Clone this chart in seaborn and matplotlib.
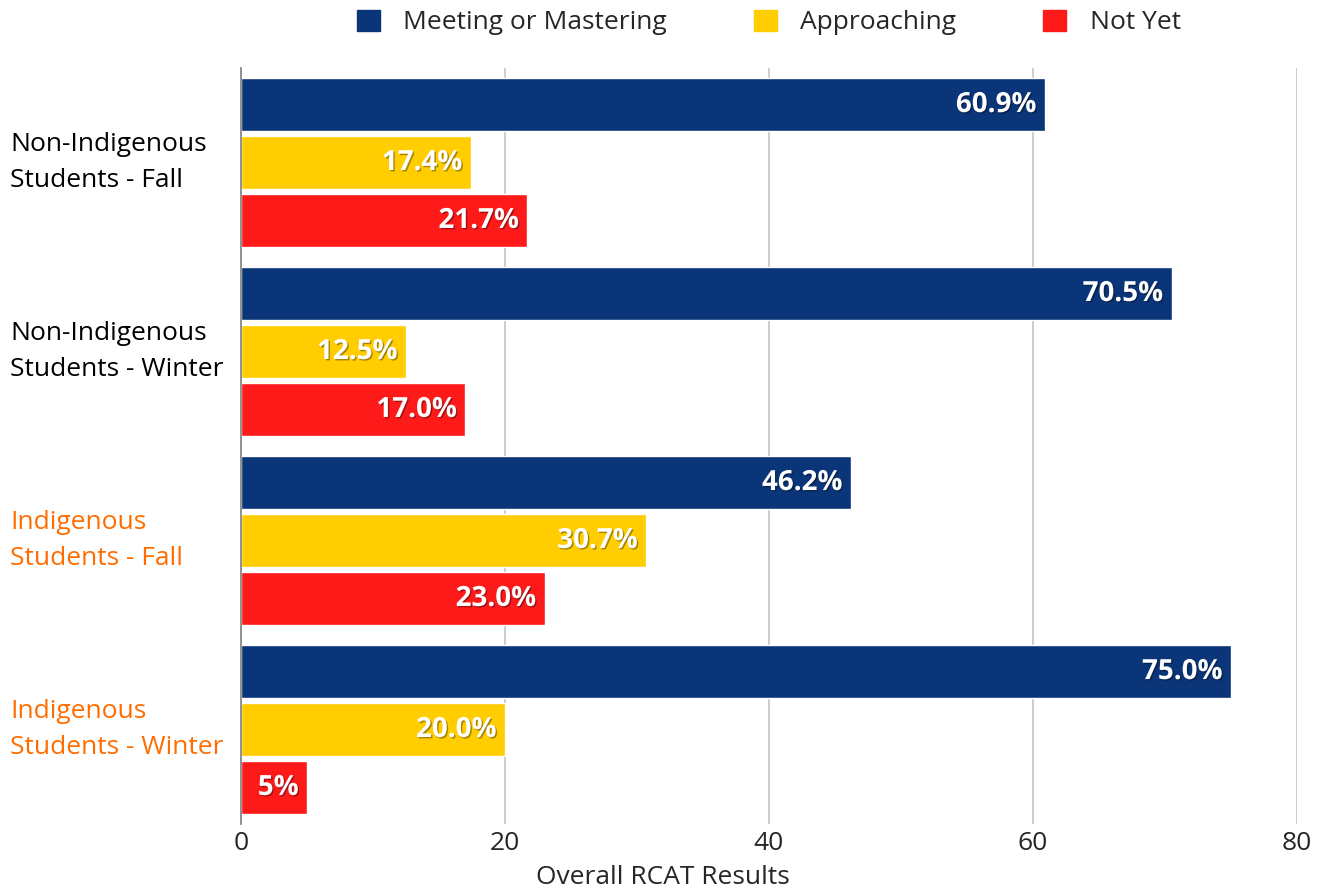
import matplotlib
matplotlib.use("Agg")
import matplotlib.pyplot as plt
import matplotlib.patheffects as pe
from matplotlib.patches import Patch
import seaborn as sns
import pandas as pd

categories = ["Non-Indigenous\nStudents - Fall", "Non-Indigenous\nStudents - Winter",
              "Indigenous\nStudents - Fall", "Indigenous\nStudents - Winter"]
category_colors = ["#000000", "#000000", "#FF6D01", "#FF6D01"]
series = ["Meeting or Mastering", "Approaching", "Not Yet"]
meeting = [60.9, 70.5, 46.2, 75.0]
approaching = [17.4, 12.5, 30.7, 20.0]
not_yet = [21.7, 17.0, 23.0, 5.0]
meeting_labels = ["60.9%", "70.5%", "46.2%", "75.0%"]
approaching_labels = ["17.4%", "12.5%", "30.7%", "20.0%"]
not_yet_labels = ["21.7%", "17.0%", "23.0%", "5%"]
colors = ["#0B3579", "#FFCD00", "#FF1A1A"]
x_ticks = [0, 20, 40, 60, 80]
x_label = "Overall RCAT Results"

rows = []
for s, vals in zip(series, [meeting, approaching, not_yet]):
    for c, v in zip(categories, vals):
        rows.append({"Group": c, "Series": s, "Value": v})
df = pd.DataFrame(rows)

sns.set_theme(style="white")
plt.rcParams["font.family"] = ["Open Sans", "DejaVu Sans"]

fig = plt.figure(figsize=(13.25, 8.9), dpi=100)
ax = fig.add_axes([241 / 1325, 1 - 824 / 890, (1297 - 241) / 1325, (824 - 68) / 890])

sns.barplot(data=df, y="Group", x="Value", hue="Series", orient="h",
            hue_order=series, order=categories, palette=colors,
            width=0.92, gap=0.07, saturation=1, legend=False, ax=ax)

ax.set_xlim(0, 80)
ax.set_ylim(3.5, -0.5)
ax.set_xticks(x_ticks)
ax.set_xticklabels([str(t) for t in x_ticks], fontsize=19)
ax.set_xlabel(x_label, fontsize=19)
ax.xaxis.set_label_coords((662.5 - 241) / 1056, -0.054)
ax.set_ylabel("")
ax.xaxis.grid(True, color="#C8C8C8", linewidth=1.3)
ax.set_axisbelow(True)
for sp in ["top", "right", "bottom"]:
    ax.spines[sp].set_visible(False)
ax.spines["left"].set_color("#888888")
ax.spines["left"].set_linewidth(1.3)
ax.tick_params(axis="both", length=0)
ax.tick_params(axis="x", pad=5)
ax.tick_params(axis="y", pad=(241 - 10) * 72 / 100)
for lbl, col in zip(ax.get_yticklabels(), category_colors):
    lbl.set_color(col)
    lbl.set_fontsize(19)
    lbl.set_ha("left")
    lbl.set_linespacing(1.6)
    lbl.set_va("center")

shadow = [pe.withSimplePatchShadow(offset=(1, -1), shadow_rgbFace="black", alpha=0.35)]
for cont, labs in zip(ax.containers, [meeting_labels, approaching_labels, not_yet_labels]):
    texts = ax.bar_label(cont, labels=labs, padding=-6, fontsize=20,
                         fontweight="bold", color="white")
    for t in texts:
        t.set_ha("right")
        t.set_path_effects(shadow)

handles = [Patch(facecolor=c, edgecolor=c, label=s) for s, c in zip(series, colors)]
ax.legend(handles=handles, loc="center", bbox_to_anchor=(0.5, 1.06), ncol=3,
          frameon=False, fontsize=19, handlelength=0.85, handleheight=0.85,
          handletextpad=0.9, columnspacing=3.3)

fig.savefig("out.png", dpi=100)
